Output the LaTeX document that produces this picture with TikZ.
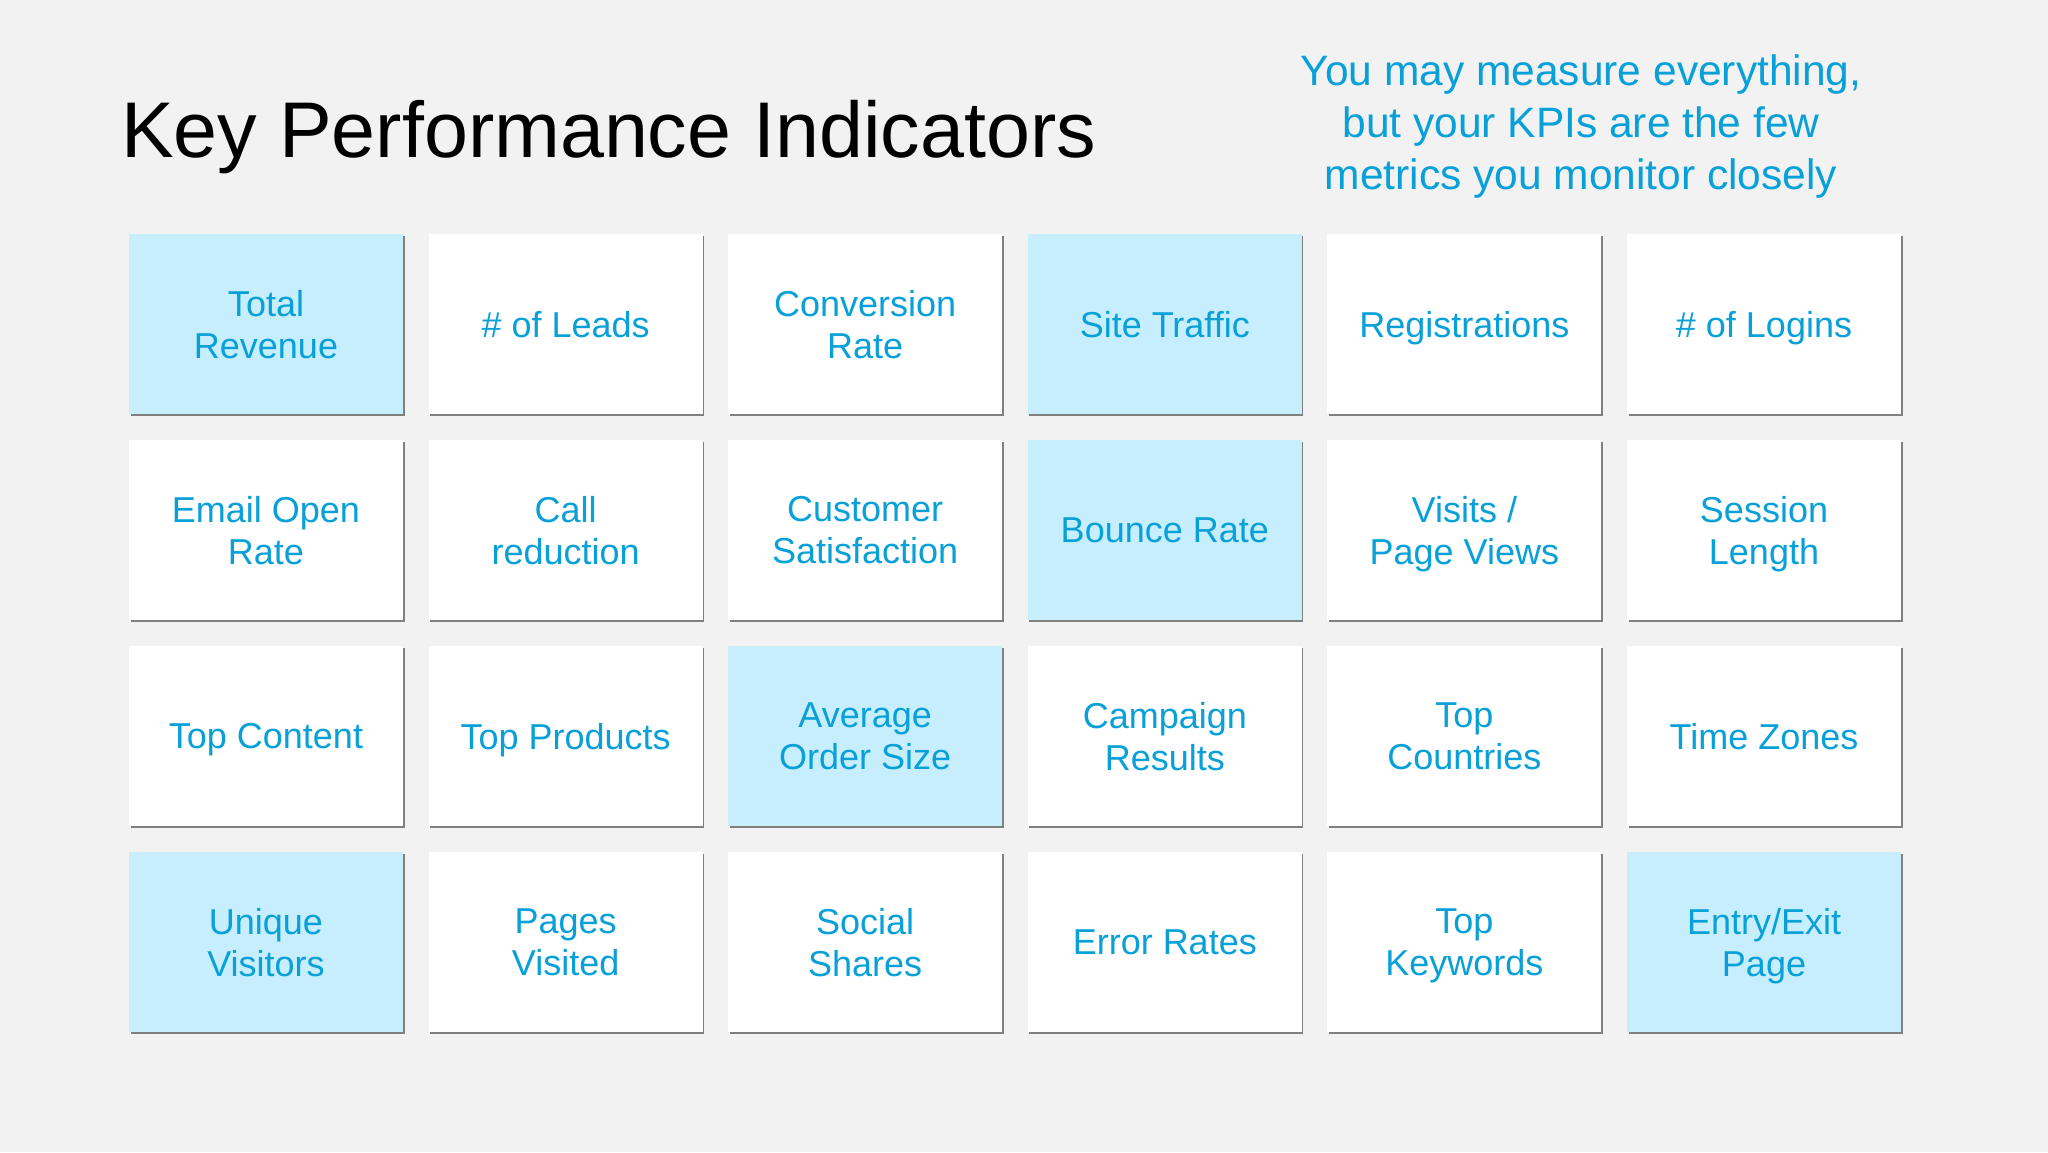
\documentclass[tikz,border=0pt]{standalone}
\usepackage{fontspec}
\setmainfont{Liberation Sans}
\usetikzlibrary{positioning}
\usetikzlibrary{shadows}
\definecolor{kpiblue}{RGB}{8,160,216}
\definecolor{kpifill}{RGB}{199,238,252}
\definecolor{slidebg}{RGB}{242,242,243}
\tikzset{
    tile/.style = {rectangle, fill=white, minimum width=274pt, minimum height=180pt, inner sep=0pt,
                   align=center, text=kpiblue, font=\fontsize{36}{42}\selectfont, text depth=0pt,
                   drop shadow={shadow xshift=1.6pt, shadow yshift=-1.6pt, fill=black!50, opacity=1}},
    tileh/.style = {tile, fill=kpifill},
    heading/.style = {anchor=base west, inner sep=0pt, font=\fontsize{79}{90}\selectfont},
    quote/.style = {align=center, inner sep=0pt, text=kpiblue, font=\fontsize{42.5}{52}\selectfont}
}

\begin{document}
\begin{tikzpicture}[x=1pt,y=-1pt]
\fill[slidebg] (0,0) rectangle (2048,1152);
\useasboundingbox (0,0) rectangle (2048,1152);
\node[heading] at (121,157) (title) {Key Performance Indicators};
\node[quote] at (1581,127) (motto) {You may measure everything,\\but your KPIs are the few\\metrics you monitor closely};
%
\node[tileh] at (266.0,324) (rev) {Total\\Revenue};
\node[tile]  at (565.6,324) (leads) {\# of Leads};
\node[tile]  at (865.2,324) (conv) {Conversion\\Rate};
\node[tileh] at (1164.8,324) (traffic) {Site Traffic};
\node[tile]  at (1464.4,324) (reg) {Registrations};
\node[tile]  at (1764.0,324) (logins) {\# of Logins};
%
\node[tile]  at (266.0,530) (email) {Email Open\\Rate};
\node[tile]  at (565.6,530) (call) {Call\\reduction};
\node[tile]  at (865.2,530) (satis) {Customer\\Satisfaction};
\node[tileh] at (1164.8,530) (bounce) {Bounce Rate};
\node[tile]  at (1464.4,530) (visits) {Visits /\\Page Views};
\node[tile]  at (1764.0,530) (session) {Session\\Length};
%
\node[tile]  at (266.0,736) (content) {Top Content};
\node[tile]  at (565.6,736) (products) {Top Products};
\node[tileh] at (865.2,736) (order) {Average\\Order Size};
\node[tile]  at (1164.8,736) (campaign) {Campaign\\Results};
\node[tile]  at (1464.4,736) (countries) {Top\\Countries};
\node[tile]  at (1764.0,736) (zones) {Time Zones};
%
\node[tileh] at (266.0,942) (unique) {Unique\\Visitors};
\node[tile]  at (565.6,942) (pages) {Pages\\Visited};
\node[tile]  at (865.2,942) (social) {Social\\Shares};
\node[tile]  at (1164.8,942) (errors) {Error Rates};
\node[tile]  at (1464.4,942) (keywords) {Top\\Keywords};
\node[tileh] at (1764.0,942) (entry) {Entry/Exit\\Page};
\end{tikzpicture}
\end{document}
